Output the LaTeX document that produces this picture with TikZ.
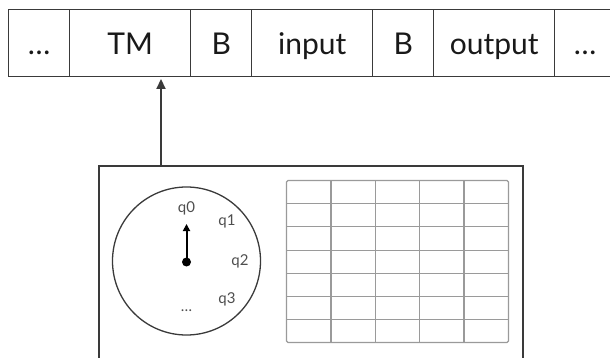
\documentclass[tikz,border=0pt]{standalone}
\usepackage{fontspec}
\setmainfont{Lato}
\usetikzlibrary{arrows.meta}
\definecolor{ink}{HTML}{3A3A3A}
\definecolor{gridgray}{HTML}{9A9A9A}
\tikzset{
  cell/.style={draw=ink, line width=1.4pt, minimum height=67pt, inner sep=0pt,
    anchor=north west, text height=23pt, text depth=0pt,
    font=\fontsize{30}{31}\selectfont, text=black!90},
  qlabel/.style={font=\fontsize{15}{16}\selectfont, text=ink!90, inner sep=0pt},
}
\begin{document}
\begin{tikzpicture}[x=1pt,y=-1pt]
\useasboundingbox (0,0) rectangle (610,358);
\clip (0,0) rectangle (610,358);
% the tape
\node[cell, minimum width=61pt]  (c1) at (8,9)   {\dots};
\node[cell, minimum width=121pt] (c2) at (69,9)  {TM};
\node[cell, minimum width=61pt]  (c3) at (190,9) {B};
\node[cell, minimum width=121pt] (c4) at (251,9) {input};
\node[cell, minimum width=61pt]  (c5) at (372,9) {B};
\node[cell, minimum width=121pt] (c6) at (433,9) {output};
\node[cell, minimum width=61pt]  (c7) at (554,9) {\dots};
% the machine
\node[draw=ink, line width=2pt, minimum width=424pt, minimum height=200pt,
  anchor=north west, inner sep=0pt] (box) at (98,165) {};
\coordinate (head) at (161,165);
\coordinate (tip) at (161,79);
\draw[ink, line width=2.2pt, -{Triangle[length=10pt,width=9pt]}] (head) -- (tip);
% state dial
\node[draw=ink, line width=1.3pt, circle, minimum size=148pt, inner sep=0pt] (dial) at (186.5,261) {};
\node[fill=black, circle, minimum size=9pt, inner sep=0pt] (hub) at (186.5,262) {};
\coordinate (hand) at (186.5,224);
\draw[black, line width=2pt, -{Triangle[length=7pt,width=7pt]}] (hub.center) -- (hand);
\node[qlabel] (q0) at (186.5,208) {q0};
\node[qlabel] (q1) at (227,221) {q1};
\node[qlabel] (q2) at (240,261) {q2};
\node[qlabel] (q3) at (227,299) {q3};
\node[qlabel] (qd) at (186.5,311) {\dots};
% transition table
\draw[gridgray, line width=1.1pt, rounded corners=1.5pt] (286.5,180.5) rectangle (508.5,342.5);
\foreach \x in {331,375.3,419.7,464}
  \draw[gridgray, line width=1.1pt] (\x,180.5) -- (\x,342.5);
\foreach \y in {203.7,226.9,250.1,273.3,296.5,319.7}
  \draw[gridgray, line width=1.1pt] (286.5,\y) -- (508.5,\y);
\end{tikzpicture}
\end{document}
